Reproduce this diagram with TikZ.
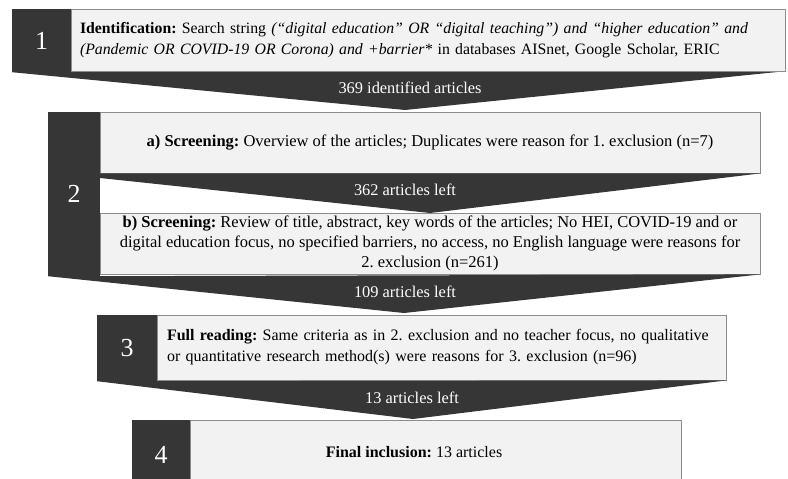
\documentclass[tikz,border=0pt]{standalone}
\usepackage{fontspec}
\setmainfont{Liberation Serif}
\frenchspacing
\definecolor{stagedark}{HTML}{363636}
\definecolor{stagelight}{HTML}{F2F2F2}
\definecolor{stageline}{HTML}{8C8C8C}

\begin{document}
\begin{tikzpicture}[x=1pt,y=-1pt,
  numbox/.style={fill=stagedark,text=white,inner sep=0pt,font=\fontsize{26}{26}\selectfont},
  stepbox/.style={draw=stageline,fill=stagelight,line width=0.8pt,inner sep=0pt,font=\fontsize{16}{20.5}\selectfont},
  countlabel/.style={text=white,inner sep=0pt,font=\fontsize{16.4}{20}\selectfont}]
\clip (0,0) rectangle (788,479);
% stage 1
\node[numbox,minimum width=59pt,minimum height=63pt] (d1) at (41.5,40.5) {1};
\coordinate (a1) at (405,110);
\coordinate (r1) at (787,71);
\fill[stagedark] (d1.south west) -- (a1) -- (r1) -- (d1.south east) -- cycle;
\node[stepbox,minimum width=714pt,minimum height=62pt,text width=696pt,align=left,
  font=\fontsize{15.8}{21}\selectfont] (l1) at (428,40)
  {\textbf{Identification:} Search string \textit{(“digital education” OR “digital teaching”) and “higher education” and}\\
   \textit{(Pandemic OR COVID-19 OR Corona) and +barrier*} in databases AISnet, Google Scholar, ERIC};
\node[countlabel] (c1) at (410,88) {369 identified articles};
% stage 2
\node[numbox,minimum width=52pt,minimum height=164pt] (d2) at (74,194) {2};
\node[stepbox,minimum width=660pt,minimum height=61pt,font=\fontsize{16.5}{20}\selectfont] (la) at (430,142.5)
  {\textbf{a) Screening:} Overview of the articles; Duplicates were reason for 1. exclusion (n=7)};
\coordinate (a2) at (430,213);
\coordinate (e2) at (100,178);
\fill[stagedark] (la.south west) -- (la.south east) -- (a2) -- (e2) -- cycle;
\node[countlabel] (c2) at (405,190) {362 articles left};
\node[stepbox,minimum width=660pt,minimum height=61pt,align=center,font=\fontsize{16.5}{20}\selectfont] (lb) at (430,243.5)
  {\textbf{b) Screening:} Review of title, abstract, key words of the articles; No HEI, COVID-19 and or\\
   digital education focus, no specified barriers, no access, no English language were reasons for\\
   2. exclusion (n=261)};
\coordinate (a3) at (404,313);
\fill[stagedark] (d2.south west) -- (a3) -- (lb.south east) -- (d2.south east) -- cycle;
\node[countlabel] (c3) at (405,292) {109 articles left};
% stage 3
\node[numbox,minimum width=60pt,minimum height=66pt] (d3) at (127,348) {3};
\node[stepbox,minimum width=569pt,minimum height=65pt,text width=549pt,align=left,
  font=\fontsize{16}{21}\selectfont] (l3) at (441.5,347.5)
  {\textbf{Full reading:} Same criteria as in 2. exclusion and no teacher focus, no qualitative\\
   or quantitative research method(s) were reasons for 3. exclusion (n=96)};
\coordinate (a4) at (413,419);
\fill[stagedark] (d3.south west) -- (a4) -- (l3.south east) -- (d3.south east) -- cycle;
\node[countlabel] (c4) at (412,398) {13 articles left};
% stage 4
\node[numbox,minimum width=58pt,minimum height=70pt] (d4) at (161,455) {4};
\node[stepbox,minimum width=491pt,minimum height=70pt] (l4) at (435.5,455) {};
\node[inner sep=0pt,font=\fontsize{16}{20}\selectfont] (t4) at (414,452) {\textbf{Final inclusion:} 13 articles};
\end{tikzpicture}
\end{document}
